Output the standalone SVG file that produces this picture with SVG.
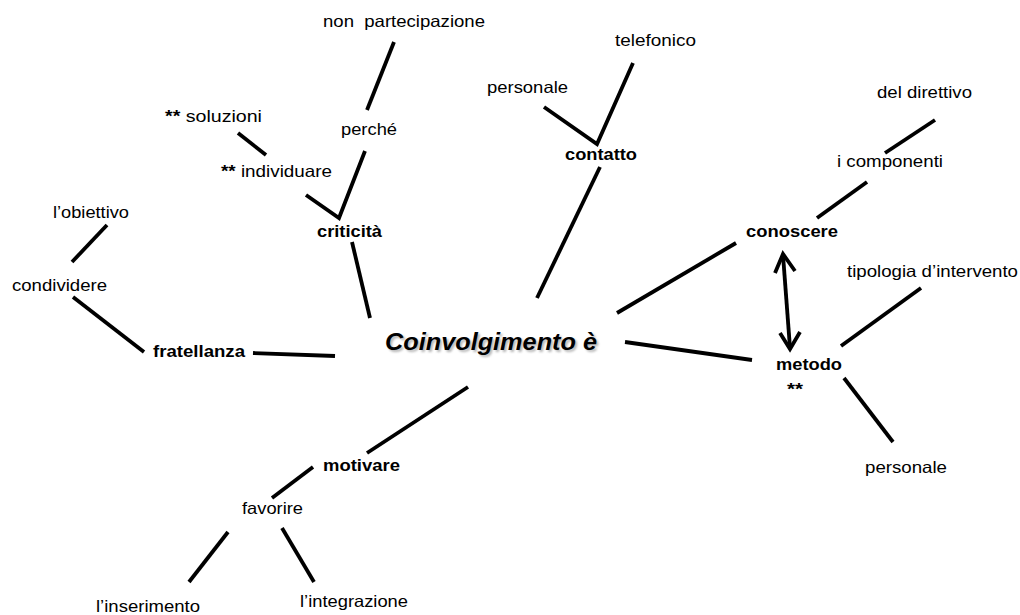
<svg xmlns="http://www.w3.org/2000/svg" width="1020" height="615" viewBox="0 0 1020 615">
<defs>
<style>
text{font-family:"Liberation Sans",Arial,sans-serif;font-size:16.5px;fill:#000}
.b{font-weight:bold}
.c{font-weight:bold;font-style:italic;font-size:23px}
.sh{fill:#999;opacity:.7}
#connectors line,#connectors polyline{stroke:#000;stroke-width:3.8;fill:none;stroke-linecap:butt}
</style>
<filter id="blur" x="-5%" y="-20%" width="110%" height="140%"><feGaussianBlur stdDeviation="1"/></filter>
</defs>
<rect width="1020" height="615" fill="#fff"/>
<g id="connectors">
<line x1="394" y1="42" x2="367" y2="110"/>
<line x1="238" y1="133" x2="266" y2="155"/>
<polyline points="306,195 339,218 365,151"/>
<line x1="352" y1="242" x2="370" y2="318"/>
<line x1="107" y1="225" x2="72" y2="262"/>
<line x1="73" y1="297" x2="144" y2="352"/>
<line x1="253" y1="353" x2="335" y2="356"/>
<polyline points="544,107 597,144 633,63"/>
<line x1="600" y1="167" x2="537" y2="298"/>
<line x1="935" y1="120" x2="885" y2="153"/>
<line x1="867" y1="182" x2="817" y2="218"/>
<line x1="736" y1="243" x2="617" y2="313"/>
<line x1="783" y1="255" x2="790" y2="348"/>
<polyline points="775,273 783,254 795,271"/>
<polyline points="780,333 790,349 800,332"/>
<line x1="921" y1="288" x2="841" y2="346"/>
<line x1="752" y1="360" x2="625" y2="342"/>
<line x1="844" y1="378" x2="893" y2="442"/>
<line x1="468" y1="387" x2="367" y2="453"/>
<line x1="313" y1="467" x2="272" y2="498"/>
<line x1="228" y1="532" x2="189" y2="582"/>
<line x1="282" y1="528" x2="314" y2="582"/>
</g>
<g id="n-center">
<text class="c sh" x="387" y="352" textLength="212" lengthAdjust="spacingAndGlyphs" filter="url(#blur)">Coinvolgimento è</text>
<text class="c" x="385" y="350" textLength="212" lengthAdjust="spacingAndGlyphs">Coinvolgimento è</text>
</g>
<g id="n-nonpart"><text x="323" y="27" textLength="162" lengthAdjust="spacingAndGlyphs" xml:space="preserve">non  partecipazione</text></g>
<g id="n-perche"><text x="341" y="135" textLength="56" lengthAdjust="spacingAndGlyphs">perché</text></g>
<g id="n-soluzioni"><text x="165" y="122" textLength="97" lengthAdjust="spacingAndGlyphs"><tspan class="b">**</tspan> soluzioni</text></g>
<g id="n-individuare"><text x="221" y="177" textLength="111" lengthAdjust="spacingAndGlyphs"><tspan class="b">**</tspan> individuare</text></g>
<g id="n-criticita"><text class="b" x="317" y="237" textLength="65" lengthAdjust="spacingAndGlyphs">criticità</text></g>
<g id="n-obiettivo"><text x="53" y="218" textLength="76" lengthAdjust="spacingAndGlyphs">l’obiettivo</text></g>
<g id="n-condividere"><text x="12" y="291" textLength="95" lengthAdjust="spacingAndGlyphs">condividere</text></g>
<g id="n-fratellanza"><text class="b" x="153" y="357" textLength="92" lengthAdjust="spacingAndGlyphs">fratellanza</text></g>
<g id="n-personale1"><text x="487" y="93" textLength="81" lengthAdjust="spacingAndGlyphs">personale</text></g>
<g id="n-telefonico"><text x="615" y="46" textLength="81" lengthAdjust="spacingAndGlyphs">telefonico</text></g>
<g id="n-contatto"><text class="b" x="565" y="160" textLength="72" lengthAdjust="spacingAndGlyphs">contatto</text></g>
<g id="n-direttivo"><text x="877" y="98" textLength="95" lengthAdjust="spacingAndGlyphs">del direttivo</text></g>
<g id="n-componenti"><text x="837" y="167" textLength="106" lengthAdjust="spacingAndGlyphs">i componenti</text></g>
<g id="n-conoscere"><text class="b" x="746" y="237" textLength="92" lengthAdjust="spacingAndGlyphs">conoscere</text></g>
<g id="n-tipologia"><text x="847" y="277" textLength="171" lengthAdjust="spacingAndGlyphs">tipologia d’intervento</text></g>
<g id="n-metodo"><text class="b" x="776" y="370" textLength="66" lengthAdjust="spacingAndGlyphs">metodo</text>
<text class="b" x="787" y="395" textLength="16" lengthAdjust="spacingAndGlyphs">**</text></g>
<g id="n-personale2"><text x="865" y="473" textLength="82" lengthAdjust="spacingAndGlyphs">personale</text></g>
<g id="n-motivare"><text class="b" x="323" y="471" textLength="77" lengthAdjust="spacingAndGlyphs">motivare</text></g>
<g id="n-favorire"><text x="242" y="514" textLength="61" lengthAdjust="spacingAndGlyphs">favorire</text></g>
<g id="n-inserimento"><text x="96" y="612" textLength="104" lengthAdjust="spacingAndGlyphs">l’inserimento</text></g>
<g id="n-integrazione"><text x="300" y="607" textLength="108" lengthAdjust="spacingAndGlyphs">l’integrazione</text></g>
</svg>
